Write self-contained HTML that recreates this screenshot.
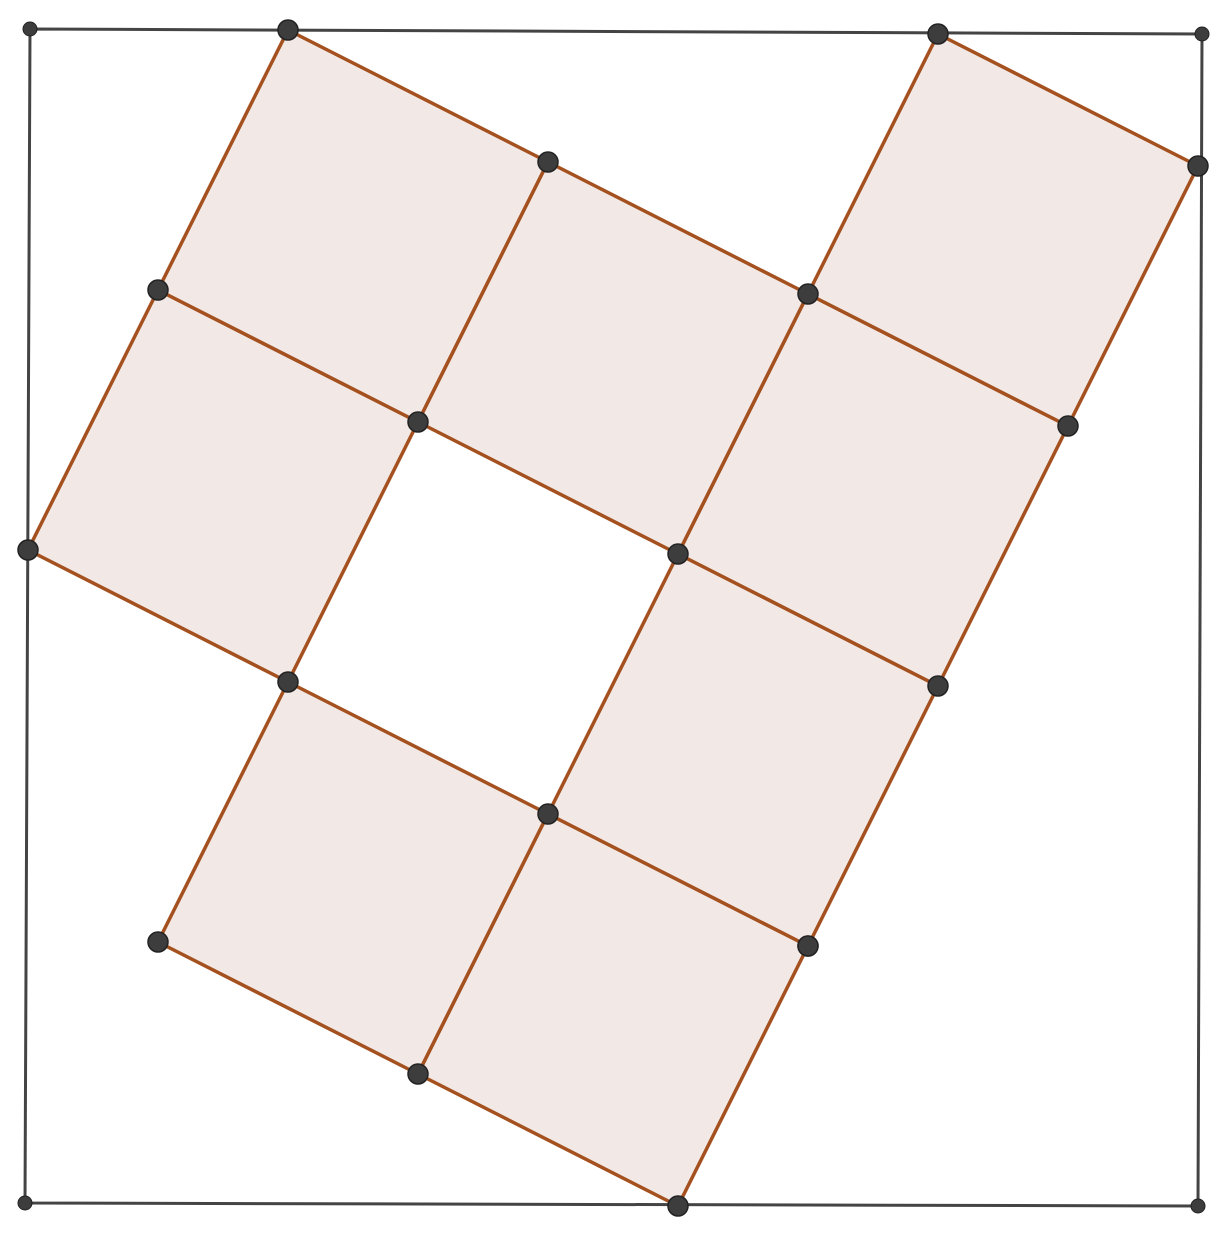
<!DOCTYPE html>
<html><head><meta charset="utf-8"><style>html,body{margin:0;padding:0;background:#fff}svg{display:block}</style></head>
<body>
<svg id="fig" width="1230" height="1234" viewBox="0 0 1230 1234" xmlns="http://www.w3.org/2000/svg"></svg>
<script>
// lattice cells (i along a, j along b) of the shaded squares
const cellI = [0, 0, 1, 2, 2, 2, 1, 2];
const cellJ = [0, 1, 1, 1, 2, 0, -1, -1];
// labeled lattice points drawn as dots
const ptI = [0, 0, 0, 1, 1, 2, 2, 3, 3, 3, 2, 1, 3, 2, 3, 1, 2, 3];
const ptJ = [0, 1, 2, 2, 1, 2, 3, 3, 2, 1, 1, 0, 0, 0, -1, -1, -1, 0];
// outer frame corners
const frameX = [30, 1202, 1198, 25];
const frameY = [29, 34, 1206, 1203];

const O = [28, 550], A = [260, 132], B = [130, -260];
const px = (i, j) => O[0] + i * A[0] + j * B[0];
const py = (i, j) => O[1] + i * A[1] + j * B[1];
const svg = document.getElementById('fig');
const NS = 'http://www.w3.org/2000/svg';
function mk(tag, attrs) { const e = document.createElementNS(NS, tag); for (const k in attrs) e.setAttribute(k, attrs[k]); svg.appendChild(e); return e; }

const fr = mk('polygon', { points: frameX.map((x, k) => x + ',' + frameY[k]).join(' '), fill: 'none', stroke: '#444', 'stroke-width': 3 });



cellI.forEach((i, k) => {
  const j = cellJ[k];
  const pts = [[i, j], [i + 1, j], [i + 1, j + 1], [i, j + 1]].map(p => px(p[0], p[1]) + ',' + py(p[0], p[1])).join(' ');
  const sq = mk('polygon', { points: pts, fill: '#f2e9e6', stroke: '#a4511f', 'stroke-width': 3.5, 'stroke-linejoin': 'round' });
  
  
});

frameX.forEach((x, k) => {
  const c = mk('circle', { cx: x, cy: frameY[k], r: 7, fill: '#3d3d3d', stroke: '#222', 'stroke-width': 1 });
  
  
});

ptI.forEach((i, k) => {
  const j = ptJ[k];
  const c = mk('circle', { cx: px(i, j), cy: py(i, j), r: 10, fill: '#3d3d3d', stroke: '#222', 'stroke-width': 1.5 });
  
  
});
</script>
</body></html>
